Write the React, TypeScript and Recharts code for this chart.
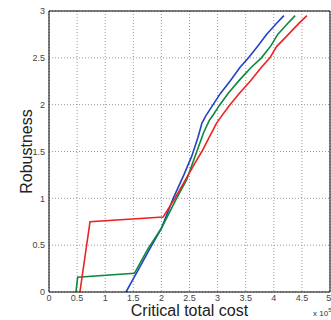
import React from 'react';
import {
  LineChart, Line, XAxis, YAxis, CartesianGrid, ReferenceLine
} from 'recharts';

// cost values are in units of 10^5
const blueCost = [1.37, 1.6, 1.83, 2.0, 2.21, 2.4, 2.54, 2.65, 2.72, 2.79, 2.92, 3.05, 3.22, 3.4, 3.55, 3.72, 3.87, 4.05, 4.18];
const blueRobustness = [0, 0.25, 0.5, 0.68, 1.0, 1.25, 1.45, 1.65, 1.8, 1.88, 2.0, 2.12, 2.25, 2.4, 2.5, 2.63, 2.75, 2.87, 2.95];

const greenCost = [0.48, 0.51, 1.52, 1.75, 2.0, 2.27, 2.45, 2.63, 2.75, 2.85, 2.92, 3.04, 3.2, 3.4, 3.6, 3.78, 3.95, 4.07, 4.25, 4.38];
const greenRobustness = [0, 0.157, 0.2, 0.45, 0.68, 1.0, 1.2, 1.5, 1.7, 1.83, 1.89, 2.0, 2.13, 2.27, 2.4, 2.5, 2.63, 2.75, 2.87, 2.95];

const redCost = [0.55, 0.73, 2.03, 2.24, 2.45, 2.62, 2.72, 2.85, 2.98, 3.06, 3.22, 3.4, 3.58, 3.78, 3.93, 4.05, 4.26, 4.45, 4.59];
const redRobustness = [0, 0.75, 0.8, 1.0, 1.22, 1.4, 1.5, 1.65, 1.8, 1.87, 2.0, 2.13, 2.25, 2.4, 2.5, 2.62, 2.75, 2.87, 2.95];

const xTicks = [0, 0.5, 1, 1.5, 2, 2.5, 3, 3.5, 4, 4.5, 5];
const yTicks = [0, 0.5, 1, 1.5, 2, 2.5, 3];

const toPoints = (xs: number[], ys: number[]) => xs.map((x, i) => ({ x, y: ys[i] }));

const series = [
  { name: 'blue', color: '#2443c4', data: toPoints(blueCost, blueRobustness) },
  { name: 'green', color: '#0b8a3c', data: toPoints(greenCost, greenRobustness) },
  { name: 'red', color: '#ee2222', data: toPoints(redCost, redRobustness) },
];

const tickStyle = { fill: '#444', fontSize: 9, fontFamily: 'Liberation Sans, Arial, sans-serif' };

export default function App() {
  return (
    <div style={{ position: 'absolute', left: 0, top: 0, width: 331, height: 320, background: '#fff' }}>
      <LineChart width={331} height={320} margin={{ top: 11, right: 1, bottom: 0, left: 0 }}>
        <CartesianGrid stroke="#999" strokeDasharray="1 2" />
        <XAxis
          dataKey="x"
          type="number"
          domain={[0, 5]}
          ticks={xTicks}
          allowDuplicatedCategory={false}
          height={28}
          stroke="#000"
          tickLine={false}
          tickSize={2}
          tickMargin={1}
          tick={tickStyle}
          label={{
            value: 'Critical total cost',
            position: 'insideBottom',
            offset: 4,
            style: { fill: '#222', fontSize: 16, fontFamily: 'Liberation Sans, Arial, sans-serif' },
          }}
        />
        <YAxis
          type="number"
          domain={[0, 3]}
          ticks={yTicks}
          width={49}
          stroke="#000"
          tickLine={false}
          tickSize={2}
          tickMargin={2}
          tick={tickStyle}
          label={{
            value: 'Robustness',
            angle: -90,
            position: 'insideLeft',
            offset: 26,
            style: { textAnchor: 'middle', fill: '#222', fontSize: 16, fontFamily: 'Liberation Sans, Arial, sans-serif' },
          }}
        />
        <ReferenceLine y={3} stroke="#000" />
        <ReferenceLine x={5} stroke="#000" />
        {series.map((s) => (
          <Line
            key={s.name}
            data={s.data}
            dataKey="y"
            type="linear"
            stroke={s.color}
            strokeWidth={1.6}
            dot={false}
            isAnimationActive={false}
          />
        ))}
      </LineChart>
      <div
        style={{
          position: 'absolute', left: 313, top: 307, fontSize: 8, color: '#333',
          fontFamily: 'Liberation Sans, Arial, sans-serif', whiteSpace: 'nowrap',
        }}
      >
        x 10<sup style={{ fontSize: 6 }}>5</sup>
      </div>
    </div>
  );
}
